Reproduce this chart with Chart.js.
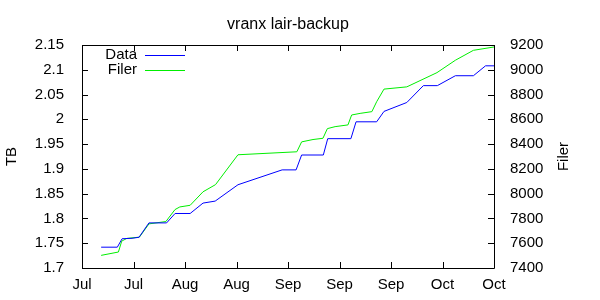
<!DOCTYPE html>
<html>
<head>
<meta charset="utf-8">
<script src="https://cdn.jsdelivr.net/npm/chart.js@4"></script>
<style>
  html, body { margin: 0; padding: 0; background: #fff; }
  canvas { display: block; }
</style>
</head>
<body>
<canvas id="chart" width="600" height="300"></canvas>
<script>
const title = 'vranx lair-backup'
const leftTitle = 'TB'
const rightTitle = 'Filer'

// x values are days counted from the first tick (Jul 7)
const tickLabels = ['Jul', 'Jul', 'Aug', 'Aug', 'Sep', 'Sep', 'Sep', 'Oct', 'Oct']

const dataDays = [5.2, 9.6, 10.9, 13.6, 15.5, 18.2, 23.0, 25.3, 29.4, 32.9, 36.2, 42.4, 54.4, 58.2, 59.7, 65.6, 66.8, 73.1, 74.5, 80.1, 82.1, 88.3, 92.8, 96.6, 101.5, 106.4, 109.7, 112]
const dataTB = [1.742, 1.742, 1.759, 1.760, 1.762, 1.791, 1.791, 1.810, 1.810, 1.831, 1.835, 1.868, 1.898, 1.898, 1.928, 1.928, 1.961, 1.961, 1.995, 1.995, 2.016, 2.034, 2.068, 2.068, 2.088, 2.088, 2.108, 2.108]

const filerDays = [5.2, 9.9, 10.8, 12.2, 15.6, 18.2, 22.8, 25.3, 26.6, 29.4, 32.9, 36.3, 42.4, 58.4, 59.7, 62.8, 65.5, 66.7, 68.8, 72.3, 73.3, 75.6, 78.8, 80.1, 82.1, 88.3, 96.5, 101.5, 106.4, 112]
const filerCount = [7502, 7529, 7617, 7639, 7649, 7756, 7775, 7872, 7893, 7906, 8015, 8073, 8314, 8338, 8418, 8437, 8447, 8525, 8541, 8555, 8635, 8648, 8662, 8742, 8844, 8862, 8977, 9077, 9157, 9184]

const FONT = 'Liberation Sans, Arial, Helvetica, sans-serif'
const BLUE = '#0000ff'
const GREEN = '#00ee00'

const pairs = (xs, ys) => xs.map((x, i) => ({ x: x, y: ys[i] }))

const framePlugin = {
  id: 'frame',
  afterDraw(chart) {
    const { ctx, chartArea: a, scales } = chart
    const tick = 6
    ctx.save()
    ctx.strokeStyle = '#000'
    ctx.lineWidth = 1
    ctx.beginPath()
    ctx.rect(Math.round(a.left) + 0.5, Math.round(a.top) + 0.5, Math.round(a.right - a.left), Math.round(a.bottom - a.top))
    scales.x.ticks.forEach(t => {
      const px = Math.round(scales.x.getPixelForValue(t.value)) + 0.5
      ctx.moveTo(px, a.bottom); ctx.lineTo(px, a.bottom - tick)
      ctx.moveTo(px, a.top); ctx.lineTo(px, a.top + tick)
    })
    scales.y.ticks.forEach(t => {
      const py = Math.round(scales.y.getPixelForValue(t.value)) + 0.5
      ctx.moveTo(a.left, py); ctx.lineTo(a.left + tick, py)
    })
    scales.y1.ticks.forEach(t => {
      const py = Math.round(scales.y1.getPixelForValue(t.value)) + 0.5
      ctx.moveTo(a.right, py); ctx.lineTo(a.right - tick, py)
    })
    ctx.stroke()

    ctx.fillStyle = '#000'
    ctx.textBaseline = 'middle'
    ctx.font = '16px ' + FONT
    ctx.textAlign = 'center'
    ctx.fillText(title, (a.left + a.right) / 2, 25)

    ctx.font = '15px ' + FONT
    const midY = (a.top + a.bottom) / 2
    ;[[leftTitle, 12], [rightTitle, 564]].forEach(([text, x]) => {
      ctx.save()
      ctx.translate(x, midY)
      ctx.rotate(-Math.PI / 2)
      ctx.fillText(text, 0, 0)
      ctx.restore()
    })

    ctx.textAlign = 'right'
    chart.data.datasets.forEach((ds, i) => {
      const y = 55 + i * 15
      ctx.fillStyle = '#000'
      ctx.fillText(ds.label, 137, y)
      ctx.strokeStyle = ds.borderColor
      ctx.beginPath()
      ctx.moveTo(145, Math.round(y) + 0.5)
      ctx.lineTo(185, Math.round(y) + 0.5)
      ctx.stroke()
    })
    ctx.restore()
  }
}

new Chart(document.getElementById('chart'), {
  type: 'line',
  data: {
    datasets: [
      {
        label: 'Data',
        data: pairs(dataDays, dataTB),
        yAxisID: 'y',
        borderColor: BLUE,
        borderWidth: 1,
        pointRadius: 0,
        tension: 0
      },
      {
        label: 'Filer',
        data: pairs(filerDays, filerCount),
        yAxisID: 'y1',
        borderColor: GREEN,
        borderWidth: 1,
        pointRadius: 0,
        tension: 0
      }
    ]
  },
  options: {
    responsive: false,
    animation: false,
    layout: { padding: { top: 45, left: 0, right: 0, bottom: 0 } },
    plugins: {
      legend: { display: false },
      title: { display: false },
      tooltip: { enabled: false }
    },
    scales: {
      x: {
        type: 'linear',
        min: 0,
        max: 112,
        grid: { display: false },
        border: { display: false },
        ticks: {
          stepSize: 14,
          autoSkip: false,
          maxRotation: 0,
          padding: 0,
          color: '#000',
          font: { family: FONT, size: 15 },
          callback: value => tickLabels[Math.round(value / 14)]
        },
        afterFit: scale => { scale.height = 32 }
      },
      y: {
        position: 'left',
        min: 1.7,
        max: 2.15,
        grid: { display: false },
        border: { display: false },
        ticks: {
          stepSize: 0.05,
          padding: 10,
          color: '#000',
          font: { family: FONT, size: 15 },
          callback: value => String(+value.toFixed(2))
        },
        afterFit: scale => { scale.width = 82 }
      },
      y1: {
        position: 'right',
        min: 7400,
        max: 9200,
        grid: { display: false },
        border: { display: false },
        ticks: {
          stepSize: 200,
          padding: 8,
          color: '#000',
          font: { family: FONT, size: 15 },
          callback: value => String(value)
        },
        afterFit: scale => { scale.width = 106 }
      }
    }
  },
  plugins: [framePlugin]
})
</script>
</body>
</html>
